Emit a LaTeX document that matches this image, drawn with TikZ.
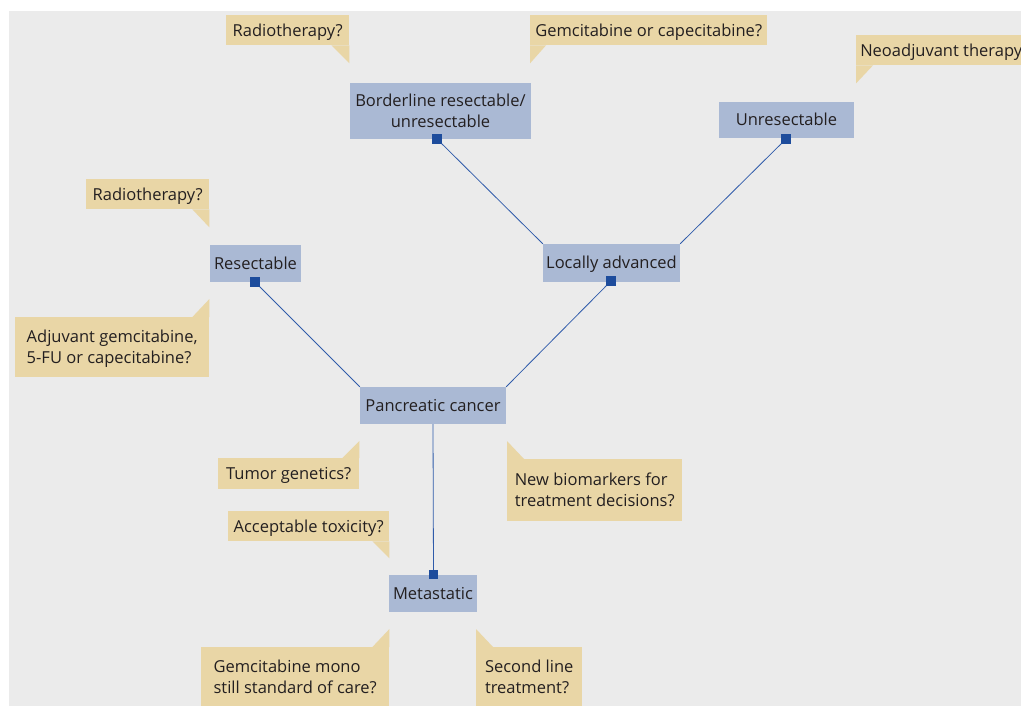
\documentclass[tikz,border=0pt]{standalone}
\usepackage{fontspec}
\setmainfont{Open Sans}
\definecolor{bgc}{HTML}{EBEBEB}
\definecolor{boxc}{HTML}{AAB9D4}
\definecolor{callc}{HTML}{E9D6A6}
\definecolor{linec}{HTML}{2F5BAA}
\definecolor{sqc}{HTML}{1D4C9C}
\definecolor{txtc}{HTML}{231F20}
\begin{document}
\begin{tikzpicture}[x=1pt,y=-1pt,
  font=\fontsize{16.5}{20.5}\selectfont,
  box/.style={fill=boxc, inner sep=0pt, align=center, text=txtc},
  callout/.style={fill=callc, inner sep=0pt, align=left, text=txtc, anchor=north west},
  oneline/.style={text height=11.8pt, text depth=0pt},
  twoline/.style={text height=32.3pt, text depth=0pt},
  tail/.style={fill=callc},
  conn/.style={draw=linec, line width=0.8pt},
  sqm/.style={fill=sqc, inner sep=0pt, minimum size=9pt}]
\useasboundingbox (0,0) rectangle (1021,706);
\clip (0,0) rectangle (1021,706);
\fill[white] (0,0) rectangle (1021,706);
\fill[bgc] (9,11) rectangle (1021,706);

% main boxes
\node[box, twoline, minimum width=181pt, minimum height=56pt] (bord) at (440.5,111) {Borderline resectable/\\unresectable};
\node[box, oneline, minimum width=135pt, minimum height=36pt] (unres) at (786.5,120) {Unresectable};
\node[box, oneline, minimum width=91pt, minimum height=37pt] (resect) at (255.5,263.5) {Resectable};
\node[box, oneline, minimum width=137pt, minimum height=38pt] (locadv) at (611.5,263) {Locally advanced};
\node[box, oneline, minimum width=146pt, minimum height=37pt] (pc) at (433,405.5) {Pancreatic cancer};
\node[box, oneline, minimum width=88pt, minimum height=37pt] (meta) at (433,593.5) {Metastatic};

% markers
\node[sqm] (sqbord) at (437,139) {};
\node[sqm] (squnres) at (786,139) {};
\node[sqm] (sqresect) at (255,282) {};
\node[sqm] (sqlocadv) at (611,281) {};
\node[sqm] (sqmeta) at (433.5,574.5) {};

% connectors
\draw[conn] (locadv.north west) -- (sqbord.center);
\draw[conn] (locadv.north east) -- (squnres.center);
\draw[conn] (pc.north west) -- (sqresect.center);
\draw[conn] (pc.north east) -- (sqlocadv.center);
\draw[conn] (pc.south) -- (sqmeta.center);
\foreach \s in {sqbord,squnres,sqresect,sqlocadv,sqmeta} \fill[sqc] (\s.south west) rectangle (\s.north east);

% callouts
\node[callout, oneline, minimum width=123pt, minimum height=30pt] (rad1) at (226,15) {Radiotherapy?};
\fill[tail] (rad1.south east) -- ++(-18,0) -- ++(18,18) -- cycle;

\node[callout, oneline, minimum width=237pt, minimum height=30pt] (gem) at (530,15) {Gemcitabine or capecitabine?};
\fill[tail] (gem.south west) -- ++(16,0) -- ++(-16,18) -- cycle;

\node[callout, oneline, minimum width=170pt, minimum height=30pt] (neo) at (856,35) {Neoadjuvant therapy};
\fill[tail] (neo.south west) -- ++(17,0) -- ++(-17,18) -- cycle;

\node[callout, oneline, minimum width=123pt, minimum height=30pt] (rad2) at (86,179) {Radiotherapy?};
\fill[tail] (rad2.south east) -- ++(-17,0) -- ++(17,18) -- cycle;

\node[callout, twoline, minimum width=194pt, minimum height=60pt] (adj) at (15,317) {Adjuvant gemcitabine,\\5-FU or capecitabine?};
\fill[tail] (adj.north east) -- ++(-17,0) -- ++(17,-18) -- cycle;

\node[callout, oneline, minimum width=141pt, minimum height=31pt] (tum) at (218,458) {Tumor genetics?};
\fill[tail] (tum.north east) -- ++(-17,0) -- ++(17,-17) -- cycle;

\node[callout, twoline, minimum width=175pt, minimum height=62pt] (bio) at (507,459) {New biomarkers for\\treatment decisions?};
\fill[tail] (bio.north west) -- ++(17,0) -- ++(-17,-18) -- cycle;

\node[callout, oneline, minimum width=161pt, minimum height=30pt] (acc) at (228,511) {Acceptable toxicity?};
\fill[tail] (acc.south east) -- ++(-17,0) -- ++(17,17) -- cycle;

\node[callout, twoline, minimum width=188pt, minimum height=60pt] (gmono) at (201,647) {Gemcitabine mono\\still standard of care?};
\fill[tail] (gmono.north east) -- ++(-17,0) -- ++(17,-18) -- cycle;

\node[callout, twoline, minimum width=106pt, minimum height=60pt] (second) at (476,647) {Second line\\treatment?};
\fill[tail] (second.north west) -- ++(17,0) -- ++(-17,-18) -- cycle;
\end{tikzpicture}
\end{document}
